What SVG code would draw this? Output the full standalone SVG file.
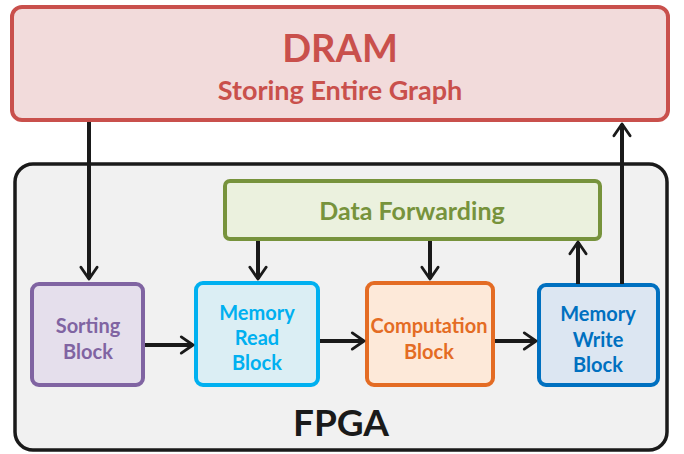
<svg xmlns="http://www.w3.org/2000/svg" width="684" height="454" viewBox="0 0 684 454">
<style>
.t{font-family:Lato,"Open Sans","Liberation Sans",sans-serif;font-weight:bold;text-anchor:middle}
.c{fill:none;stroke:#1a1a1a;stroke-width:4}
</style>
<defs>
<marker id="ah" viewBox="0 0 12 12" refX="10" refY="6" markerWidth="5.4" markerHeight="5.4" orient="auto" markerUnits="strokeWidth">
<path d="M3.5,1.5 L10,6 L3.5,10.5" fill="none" stroke="#1a1a1a" stroke-width="1.6" stroke-linecap="round" stroke-linejoin="round"/>
</marker>
</defs>
<g id="dram">
<rect x="12" y="7" width="656" height="113" rx="10" fill="#f2dbdb" stroke="#c9504c" stroke-width="4"/>
<text class="t" x="340" y="62" font-size="38" fill="#c9504c">DRAM</text>
<text class="t" x="340" y="100" font-size="27" fill="#c9504c">Storing Entire Graph</text>
</g>
<g id="fpga">
<rect x="15" y="164" width="652" height="286" rx="18" fill="#f1f1f1" stroke="#1a1a1a" stroke-width="3.5"/>
<text class="t" x="341" y="436" font-size="37" fill="#1a1a1a">FPGA</text>
</g>
<g id="dataforwarding">
<rect x="225" y="181" width="375" height="58" rx="5" fill="#ebf1de" stroke="#77933c" stroke-width="4"/>
<text class="t" x="412" y="220" font-size="25" fill="#77933c">Data Forwarding</text>
</g>
<g id="sorting">
<rect x="32" y="284" width="111" height="101" rx="7" fill="#e5dfec" stroke="#8064a2" stroke-width="4"/>
<text class="t" x="88" y="333" font-size="20" fill="#8064a2">Sorting</text>
<text class="t" x="88" y="359" font-size="20" fill="#8064a2">Block</text>
</g>
<g id="memread">
<rect x="196" y="283" width="122" height="102" rx="7" fill="#dbeef4" stroke="#00b0f0" stroke-width="4"/>
<text class="t" x="257" y="320" font-size="20" fill="#00b0f0">Memory</text>
<text class="t" x="257" y="345" font-size="20" fill="#00b0f0">Read</text>
<text class="t" x="257" y="370" font-size="20" fill="#00b0f0">Block</text>
</g>
<g id="computation">
<rect x="367" y="283" width="126" height="102" rx="7" fill="#fde9d9" stroke="#e46c24" stroke-width="4"/>
<text class="t" x="429" y="333" font-size="20" fill="#e46c24">Computation</text>
<text class="t" x="429" y="359" font-size="20" fill="#e46c24">Block</text>
</g>
<g id="memwrite">
<rect x="539" y="285" width="119" height="100" rx="7" fill="#dce6f2" stroke="#0070c0" stroke-width="4"/>
<text class="t" x="598" y="321" font-size="20" fill="#0070c0">Memory</text>
<text class="t" x="598" y="347" font-size="20" fill="#0070c0">Write</text>
<text class="t" x="598" y="372" font-size="20" fill="#0070c0">Block</text>
</g>
<g id="connectors">
<line class="c" x1="89" y1="122" x2="89" y2="279" marker-end="url(#ah)"/>
<line class="c" x1="622" y1="284" x2="622" y2="124" marker-end="url(#ah)"/>
<line class="c" x1="258" y1="241" x2="258" y2="279" marker-end="url(#ah)"/>
<line class="c" x1="430" y1="241" x2="430" y2="279" marker-end="url(#ah)"/>
<line class="c" x1="578" y1="284" x2="578" y2="242" marker-end="url(#ah)"/>
<line class="c" x1="145" y1="345" x2="193" y2="345" marker-end="url(#ah)"/>
<line class="c" x1="320" y1="341" x2="364" y2="341" marker-end="url(#ah)"/>
<line class="c" x1="495" y1="341" x2="536" y2="341" marker-end="url(#ah)"/>
</g>
</svg>
